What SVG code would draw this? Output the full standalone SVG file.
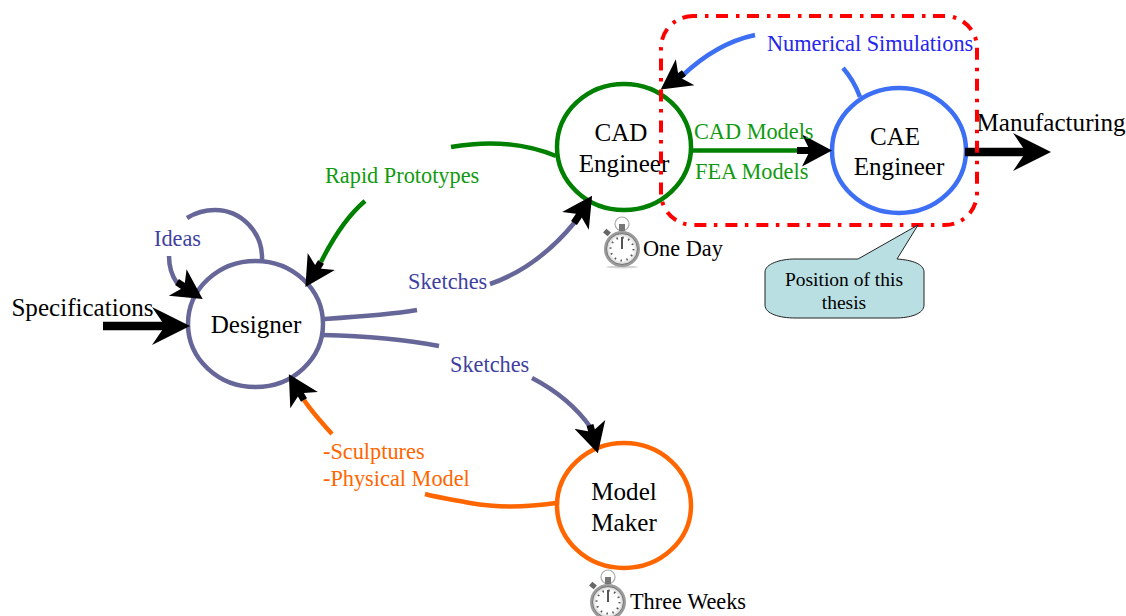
<svg xmlns="http://www.w3.org/2000/svg" width="1126" height="616" viewBox="0 0 1126 616">
<style>
text{font-family:"Liberation Serif","Times New Roman",serif;fill:#000}
.node{fill:#fff;stroke-width:4.500}
.big{font-size:25.100px;text-anchor:middle}
.lab{font-size:22.300px}
.c{fill:none;stroke-width:4.500}
.pu{stroke:#666699}.gr{stroke:#008000}.bl{stroke:#3d6ff5}.or{stroke:#ff6600}
.tp{fill:#3f3f9f}.tg{fill:#119a11}.tb{fill:#2525ee}.to{fill:#ff6600}
.s{fill:none;stroke:#000;stroke-width:7}
.S{fill:none;stroke:#000;stroke-width:8.500}
</style>
<defs>
<marker id="h" markerUnits="userSpaceOnUse" markerWidth="32" markerHeight="34" viewBox="0 0 32 34" refX="10" refY="17" orient="auto"><path d="M30,17 L0,1 L8,17 L0,33 Z" fill="#000"/></marker>
<marker id="H" markerUnits="userSpaceOnUse" markerWidth="40" markerHeight="40" viewBox="0 0 40 40" refX="15" refY="20" orient="auto"><path d="M38,20 L0,1 L13,20 L0,39 Z" fill="#000"/></marker>
<radialGradient id="w" cx=".5" cy=".5" r=".5"><stop offset=".75" stop-color="#fff"/><stop offset="1" stop-color="#ccc"/></radialGradient>
<g id="watch">
<ellipse cx="0" cy="18" rx="16" ry="1.500" fill="#d5d5d5"/>
<circle cx="0" cy="-25" r="7" fill="#fff" stroke="#aaa" stroke-width="1.200"/>
<rect x="-3" y="-25" width="6" height="7" fill="#777"/>
<rect x="-18" y="-19" width="6" height="5" fill="#666" transform="rotate(40 -15 -16.500)"/>
<circle r="18" fill="#9a9a9a"/>
<circle r="15.500" fill="url(#w)" stroke="#777" stroke-width="1"/>
<path d="M0,-12V0" stroke="#555" stroke-width="2" fill="none"/>
<circle r="11.500" fill="none" stroke="#555" stroke-width="2" stroke-dasharray="1.500 4.520"/>
</g>
</defs>
<g id="designer"><ellipse class="node pu" cx="255.500" cy="324" rx="67.500" ry="63"/><text class="big" x="256" y="333">Designer</text></g>
<g id="cad"><ellipse class="node gr" cx="624" cy="147" rx="67" ry="63"/><text class="big" x="621" y="141">CAD</text><text class="big" x="624" y="172">Engineer</text></g>
<g id="cae"><ellipse class="node bl" cx="899" cy="150.500" rx="67" ry="62.500"/><text class="big" x="895" y="145">CAE</text><text class="big" x="899" y="175">Engineer</text></g>
<g id="maker"><ellipse class="node or" cx="624" cy="505.500" rx="67" ry="62.500"/><text class="big" x="624" y="500">Model</text><text class="big" x="624" y="531">Maker</text></g>
<g id="connectors">
<path class="c pu" d="M262,260C263,232 241,210 215,210C205,210 195,213 187,218"/>
<path class="c pu" d="M169,256C169,267 172,276 177,283"/>
<path class="s" d="M177,282L186,288" marker-end="url(#h)"/>
<path class="S" d="M103,326H167" marker-end="url(#H)"/>
<path class="c gr" d="M556,156C522,142 485,141 451,147"/>
<path class="c gr" d="M365,201C345,218 332,240 321,262"/>
<path class="s" d="M321,262L316,270" marker-end="url(#h)"/>
<path class="c pu" d="M323,319C355,317 388,315 417,310"/>
<path class="c pu" d="M490,284C525,272 552,250 575,222"/>
<path class="s" d="M574,223L581,212.500" marker-end="url(#h)"/>
<path class="c pu" d="M323,335C365,336 402,339 439,346"/>
<path class="c pu" d="M532,378C557,391 577,408 591,428"/>
<path class="s" d="M590,425L592.500,434" marker-end="url(#h)"/>
<path class="c or" d="M556,503C528,507 498,508 470,503C455,500 440,498 425,494"/>
<path class="c or" d="M332,434C322,423 312,412 304,400"/>
<path class="s" d="M304,400L299,391.500" marker-end="url(#h)"/>
<path class="c gr" d="M692,150.500H800"/>
<path class="s" d="M797,150.500H812" marker-end="url(#h)"/>
<path class="c bl" d="M755,35C727,41 703,56 682,76"/>
<path class="s" d="M684,73L677,78" marker-end="url(#h)"/>
<path class="c bl" d="M843,68C850,76 856,86 860,97"/>
<path class="S" d="M965,152H1028" marker-end="url(#H)"/>
</g>
<g id="labels">
<text class="big" x="82.500" y="316">Specifications</text>
<text class="big" x="1051" y="131">Manufacturing</text>
<text class="lab tp" x="154" y="246">Ideas</text>
<text class="lab tg" x="325" y="183">Rapid Prototypes</text>
<text class="lab tp" x="408" y="289">Sketches</text>
<text class="lab tp" x="450" y="372">Sketches</text>
<text class="lab to" x="323" y="459">-Sculptures</text>
<text class="lab to" x="323" y="486">-Physical Model</text>
<text class="lab tg" x="694" y="139">CAD Models</text>
<text class="lab tg" x="695" y="179">FEA Models</text>
<text class="lab tb" x="767" y="51">Numerical Simulations</text>
</g>
<g id="watch-one"><use href="#watch" x="622" y="249"/><text class="lab" x="643" y="256">One Day</text></g>
<g id="watch-three"><use href="#watch" x="608" y="602"/><text class="lab" x="630" y="609">Three Weeks</text></g>
<rect id="boundary" x="661" y="16" width="316" height="209" rx="32" fill="none" stroke="#f00" stroke-width="4" stroke-dasharray="12 8 3.500 7.500" stroke-dashoffset="8"/>
<g id="callout"><path d="M858,259L918,225L897,259C912,260 924,264 924,272V305C924,314 910,318 895,318H795C780,318 765,314 765,305V272C765,264 780,259 795,259Z" fill="#b9dfe3" stroke="#222" stroke-width="1"/>
<text x="844" y="286" text-anchor="middle" font-size="19.500">Position of this</text><text x="844" y="309" text-anchor="middle" font-size="19.500">thesis</text></g>
</svg>
